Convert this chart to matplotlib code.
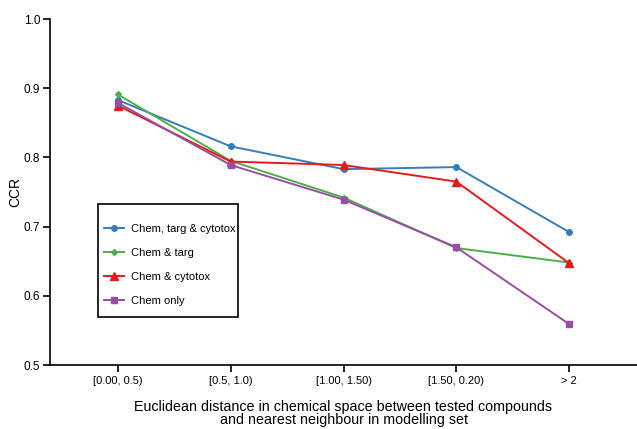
import matplotlib
matplotlib.use('Agg')
import matplotlib.pyplot as plt
from matplotlib.patches import Rectangle

plt.rcParams['font.family'] = ['Liberation Sans', 'DejaVu Sans']

# data
bins = ['[0.00, 0.5)', '[0.5, 1.0)', '[1.00, 1.50)', '[1.50, 0.20)', '> 2']
chem_targ_cyto = [0.883, 0.816, 0.783, 0.786, 0.692]
chem_targ = [0.891, 0.795, 0.742, 0.669, 0.648]
chem_cyto = [0.875, 0.794, 0.789, 0.765, 0.647]
chem_only = [0.879, 0.789, 0.739, 0.670, 0.559]

series = [
    ('Chem, targ & cytotox', chem_targ_cyto, '#377eb8', 'o', 4),
    ('Chem & targ', chem_targ, '#4daf4a', 'D', 3),
    ('Chem & cytotox', chem_cyto, '#e41a1c', '^', 6),
    ('Chem only', chem_only, '#984ea3', 's', 5),
]

fig = plt.figure(figsize=(6.37, 4.29), dpi=100)
ax = fig.add_axes([50 / 637, 64 / 429, 587 / 637, 346 / 429])

x = list(range(len(bins)))
for name, vals, col, mk, ms in series:
    ax.plot(x, vals, color=col, marker=mk, markersize=ms, lw=1.4, label=name)

ax.set_xlim(-0.6, 4.6)
ax.set_ylim(0.5, 1.0)
ax.set_xticks(x)
ax.set_xticklabels(bins, fontsize=8)
ax.set_yticks([0.5, 0.6, 0.7, 0.8, 0.9, 1.0])
ax.set_yticklabels(['0.5', '0.6', '0.7', '0.8', '0.9', '1.0'], fontsize=8.5)
ax.tick_params(direction='out', length=5, width=1.2)
ax.tick_params(axis='x', pad=3)
ax.tick_params(axis='y', pad=2)
for s in ['top', 'right']:
    ax.spines[s].set_visible(False)
for s in ['left', 'bottom']:
    ax.spines[s].set_linewidth(1.2)

ax.set_ylabel('CCR', fontsize=10)
ax.yaxis.set_label_coords(-0.048, 0.5)
ax.set_xlabel('Euclidean distance in chemical space between tested compounds\nand nearest neighbour in modelling set',
              fontsize=10.3, labelpad=10, linespacing=0.95)

# legend frame drawn by hand (extra space at the top like the original)
ax.add_patch(Rectangle((0.082, 0.139), 0.238, 0.327, transform=ax.transAxes,
                       fill=False, edgecolor='black', lw=1.2, zorder=5))
ax.legend(loc='upper left', bbox_to_anchor=(0.085, 0.42), frameon=False,
          fontsize=8, handlelength=1.8, handletextpad=0.6, labelspacing=1.25,
          borderaxespad=0)

fig.savefig('out.png', dpi=100)
